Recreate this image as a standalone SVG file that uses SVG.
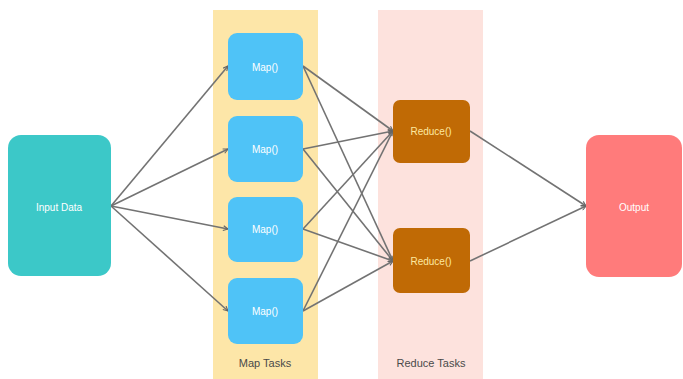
<svg xmlns="http://www.w3.org/2000/svg" width="683" height="379" viewBox="0 0 683 379">
  <style>
    .lbl { font-family: "Liberation Sans", Arial, sans-serif; font-size: 10px; fill: #ffffff; text-anchor: middle; dominant-baseline: central; }
    .band-title { font-family: "Liberation Sans", Arial, sans-serif; font-size: 11px; fill: #4a4a4a; text-anchor: middle; }
    .map rect { fill: #4fc3f7; }
    .reduce rect { fill: #c06a05; }
    .reduce text { fill: #fde9a0; }
    .edge { stroke: #737373; stroke-width: 1.6; fill: none; marker-end: url(#arrow); }
  </style>
  <defs>
    <marker id="arrow" viewBox="0 0 10 10" refX="9" refY="5" markerWidth="6" markerHeight="6" orient="auto" markerUnits="userSpaceOnUse">
      <path d="M1,1 L9,5 L1,9" fill="none" stroke="#666666" stroke-width="1.8"/>
    </marker>
  </defs>
  <rect width="683" height="379" fill="#ffffff"/>

  <!-- stage bands -->
  <g id="map-tasks">
    <rect x="213" y="10" width="105" height="369" fill="#fde6a8"/>
    <text class="band-title" x="265" y="367">Map Tasks</text>
  </g>
  <g id="reduce-tasks">
    <rect x="378" y="10" width="105" height="369" fill="#fde2dd"/>
    <text class="band-title" x="431" y="367">Reduce Tasks</text>
  </g>

  <!-- connectors -->
  <g id="connectors">
    <line class="edge" x1="111" y1="206" x2="228" y2="66"/>
    <line class="edge" x1="111" y1="206" x2="228" y2="149"/>
    <line class="edge" x1="111" y1="206" x2="228" y2="229"/>
    <line class="edge" x1="111" y1="206" x2="228" y2="311"/>

    <line class="edge" x1="303" y1="66" x2="393" y2="131"/>
    <line class="edge" x1="303" y1="66" x2="393" y2="261"/>
    <line class="edge" x1="303" y1="149" x2="393" y2="131"/>
    <line class="edge" x1="303" y1="149" x2="393" y2="261"/>
    <line class="edge" x1="303" y1="229" x2="393" y2="131"/>
    <line class="edge" x1="303" y1="229" x2="393" y2="261"/>
    <line class="edge" x1="303" y1="311" x2="393" y2="131"/>
    <line class="edge" x1="303" y1="311" x2="393" y2="261"/>

    <line class="edge" x1="470" y1="131" x2="586" y2="206"/>
    <line class="edge" x1="470" y1="261" x2="586" y2="206"/>
  </g>

  <!-- nodes -->
  <g id="input-data">
    <rect x="8" y="135" width="103" height="141" rx="13" fill="#3cc8c8"/>
    <text class="lbl" x="59" y="207" font-size="11">Input Data</text>
  </g>

  <g id="map-1" class="map">
    <rect x="228" y="33" width="75" height="67" rx="9"/>
    <text class="lbl" x="265" y="67">Map()</text>
  </g>
  <g id="map-2" class="map">
    <rect x="228" y="116" width="75" height="66" rx="9"/>
    <text class="lbl" x="265" y="149">Map()</text>
  </g>
  <g id="map-3" class="map">
    <rect x="228" y="197" width="75" height="65" rx="9"/>
    <text class="lbl" x="265" y="229">Map()</text>
  </g>
  <g id="map-4" class="map">
    <rect x="228" y="278" width="75" height="66" rx="9"/>
    <text class="lbl" x="265" y="311">Map()</text>
  </g>

  <g id="reduce-1" class="reduce">
    <rect x="393" y="100" width="77" height="63" rx="7"/>
    <text class="lbl" x="431" y="131">Reduce()</text>
  </g>
  <g id="reduce-2" class="reduce">
    <rect x="393" y="228" width="77" height="65" rx="7"/>
    <text class="lbl" x="431" y="261">Reduce()</text>
  </g>

  <g id="output">
    <rect x="586" y="135" width="96" height="142" rx="13" fill="#ff7b7b"/>
    <text class="lbl" x="634" y="207" font-size="11" fill="#ffe4e4">Output</text>
  </g>
</svg>
